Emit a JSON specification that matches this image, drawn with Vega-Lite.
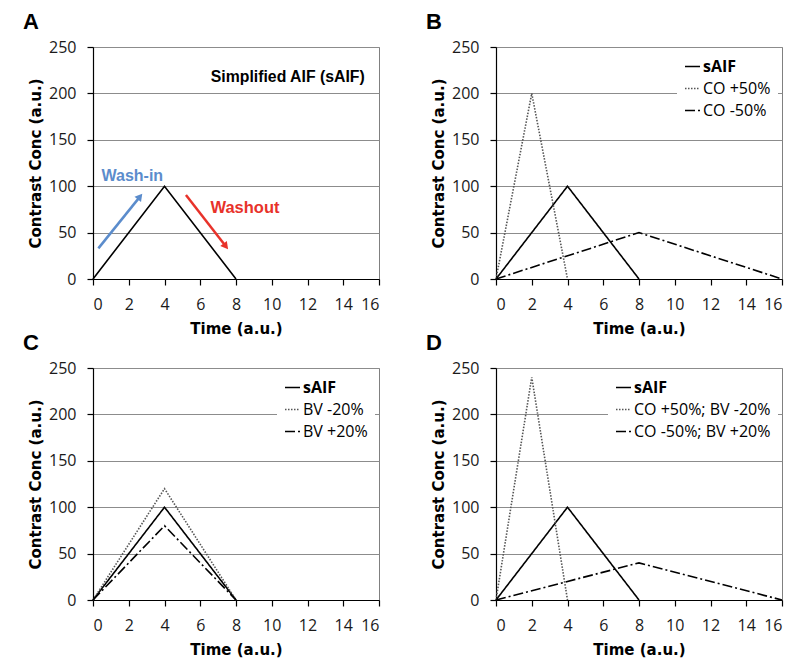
{
  "$schema": "https://vega.github.io/schema/vega-lite/v6.json",
  "background": "white",
  "padding": {"left": 22, "top": 10, "right": 5, "bottom": 5},
  "datasets": {
    "A": [
      {"t": 0, "c": 0, "s": "sAIF"}, {"t": 4, "c": 100, "s": "sAIF"}, {"t": 8, "c": 0, "s": "sAIF"}
    ],
    "B": [
      {"t": 0, "c": 0, "s": "sAIF"}, {"t": 4, "c": 100, "s": "sAIF"}, {"t": 8, "c": 0, "s": "sAIF"},
      {"t": 0, "c": 0, "s": "CO +50%"}, {"t": 2, "c": 200, "s": "CO +50%"}, {"t": 4, "c": 0, "s": "CO +50%"},
      {"t": 0, "c": 0, "s": "CO -50%"}, {"t": 8, "c": 50, "s": "CO -50%"}, {"t": 16, "c": 0, "s": "CO -50%"}
    ],
    "C": [
      {"t": 0, "c": 0, "s": "sAIF"}, {"t": 4, "c": 100, "s": "sAIF"}, {"t": 8, "c": 0, "s": "sAIF"},
      {"t": 0, "c": 0, "s": "BV -20%"}, {"t": 4, "c": 120, "s": "BV -20%"}, {"t": 8, "c": 0, "s": "BV -20%"},
      {"t": 0, "c": 0, "s": "BV +20%"}, {"t": 4, "c": 80, "s": "BV +20%"}, {"t": 8, "c": 0, "s": "BV +20%"}
    ],
    "D": [
      {"t": 0, "c": 0, "s": "sAIF"}, {"t": 4, "c": 100, "s": "sAIF"}, {"t": 8, "c": 0, "s": "sAIF"},
      {"t": 0, "c": 0, "s": "CO +50%; BV -20%"}, {"t": 2, "c": 240, "s": "CO +50%; BV -20%"}, {"t": 4, "c": 0, "s": "CO +50%; BV -20%"},
      {"t": 0, "c": 0, "s": "CO -50%; BV +20%"}, {"t": 8, "c": 40, "s": "CO -50%; BV +20%"}, {"t": 16, "c": 0, "s": "CO -50%; BV +20%"}
    ],
    "labels": [
      {"t": 15.2, "c": 218, "label": "Simplified AIF (sAIF)", "kind": "title"},
      {"t": 2.2, "c": 111, "label": "Wash-in", "kind": "in"},
      {"t": 8.5, "c": 77, "label": "Washout", "kind": "out"}
    ],
    "arrowIn": [{"t": 0.3, "c": 33, "t2": 2.63, "c2": 88.8}],
    "arrowOut": [{"t": 5.2, "c": 90.5, "t2": 7.43, "c2": 35.2}]
  },
  "config": {
    "font": "Open Sans",
    "view": {"stroke": "#808080", "strokeWidth": 1},
    "axis": {
      "domainColor": "black", "domainWidth": 1.2, "tickColor": "black", "tickSize": 6, "tickWidth": 1.2,
      "labelFont": "Open Sans", "labelFontSize": 16, "labelColor": "#1a1a1a",
      "titleFont": "DejaVu Sans", "titleFontSize": 15, "titleFontWeight": "bold", "titleColor": "black",
      "gridColor": "#8c8c8c", "gridWidth": 1
    },
    "axisX": {"grid": false, "values": [0, 2, 4, 6, 8, 10, 12, 14, 16], "labelPadding": 11, "titlePadding": 9},
    "axisY": {"grid": true, "values": [0, 50, 100, 150, 200, 250], "labelPadding": 11, "titlePadding": 5},
    "legend": {
      "orient": "top-right", "offset": 4, "padding": 7, "fillColor": "white",
      "labelFont": "Open Sans", "labelFontSize": 16, "labelColor": "black",
      "symbolType": "stroke", "symbolSize": 225, "symbolStrokeWidth": 1.5,
      "rowPadding": 5, "labelOffset": 2
    },
    "title": {"font": "Liberation Sans", "fontSize": 22, "fontWeight": "bold", "color": "black", "anchor": "start", "frame": "group", "dx": -70, "offset": 5, "baseline": "alphabetic"}
  },
  "spacing": -6,
  "resolve": {"scale": {"strokeDash": "independent", "color": "independent"}, "legend": {"strokeDash": "independent", "color": "independent"}},
  "vconcat": [
    {
      "spacing": 44,
      "resolve": {"scale": {"strokeDash": "independent", "color": "independent"}, "legend": {"strokeDash": "independent", "color": "independent"}},
      "hconcat": [
        {
          "title": {"text": "A"},
          "width": 286, "height": 232,
          "encoding": {
            "x": {"field": "t", "type": "quantitative", "scale": {"domain": [0, 16], "nice": false}, "axis": {"title": "Time (a.u.)"}},
            "y": {"field": "c", "type": "quantitative", "scale": {"domain": [0, 250], "nice": false}, "axis": {"title": "Contrast Conc (a.u.)"}}
          },
          "layer": [
            {"data": {"name": "A"}, "mark": {"type": "line", "color": "black", "strokeWidth": 1.6}},
            {"data": {"name": "arrowIn"}, "mark": {"type": "rule", "color": "#5b8ccc", "strokeWidth": 2.5},
              "encoding": {"x2": {"field": "t2"}, "y2": {"field": "c2"}}},
            {"data": {"name": "arrowIn"}, "mark": {"type": "point", "shape": "triangle-up", "filled": true, "color": "#5b8ccc", "size": 70, "angle": 38.7, "opacity": 1},
              "encoding": {"x": {"field": "t2", "type": "quantitative"}, "y": {"field": "c2", "type": "quantitative"}}},
            {"data": {"name": "arrowOut"}, "mark": {"type": "rule", "color": "#e8322a", "strokeWidth": 2.5},
              "encoding": {"x2": {"field": "t2"}, "y2": {"field": "c2"}}},
            {"data": {"name": "arrowOut"}, "mark": {"type": "point", "shape": "triangle-up", "filled": true, "color": "#e8322a", "size": 70, "angle": 141.9, "opacity": 1},
              "encoding": {"x": {"field": "t2", "type": "quantitative"}, "y": {"field": "c2", "type": "quantitative"}}},
            {"data": {"name": "labels"}, "transform": [{"filter": "datum.kind == 'title'"}],
              "mark": {"type": "text", "font": "Liberation Sans", "fontWeight": "bold", "fontSize": 15.8, "align": "right", "baseline": "middle", "color": "black"},
              "encoding": {"text": {"field": "label"}}},
            {"data": {"name": "labels"}, "transform": [{"filter": "datum.kind == 'in'"}],
              "mark": {"type": "text", "font": "Liberation Sans", "fontWeight": "bold", "fontSize": 16, "align": "center", "baseline": "middle", "color": "#5b8ccc"},
              "encoding": {"text": {"field": "label"}}},
            {"data": {"name": "labels"}, "transform": [{"filter": "datum.kind == 'out'"}],
              "mark": {"type": "text", "font": "Liberation Sans", "fontWeight": "bold", "fontSize": 16.5, "align": "center", "baseline": "middle", "color": "#e8322a"},
              "encoding": {"text": {"field": "label"}}}
          ]
        },
        {
          "title": {"text": "B"},
          "width": 286, "height": 232,
          "data": {"name": "B"},
          "mark": {"type": "line", "strokeWidth": 1.6},
          "encoding": {
            "x": {"field": "t", "type": "quantitative", "scale": {"domain": [0, 16], "nice": false}, "axis": {"title": "Time (a.u.)"}},
            "y": {"field": "c", "type": "quantitative", "scale": {"domain": [0, 250], "nice": false}, "axis": {"title": "Contrast Conc (a.u.)"}},
            "strokeDash": {"field": "s", "type": "nominal", "sort": null,
              "scale": {"domain": ["sAIF", "CO +50%", "CO -50%"], "range": [[1, 0], [1.5, 1.5], [10, 3, 2, 3]]},
              "legend": {"title": null, "labelFontWeight": {"expr": "datum.label == 'sAIF' ? 'bold' : 'normal'"}}},
            "color": {"field": "s", "type": "nominal", "sort": null,
              "scale": {"domain": ["sAIF", "CO +50%", "CO -50%"], "range": ["black", "#555555", "black"]},
              "legend": {"title": null, "labelFontWeight": {"expr": "datum.label == 'sAIF' ? 'bold' : 'normal'"}}}
          }
        }
      ]
    },
    {
      "spacing": 44,
      "resolve": {"scale": {"strokeDash": "independent", "color": "independent"}, "legend": {"strokeDash": "independent", "color": "independent"}},
      "hconcat": [
        {
          "title": {"text": "C"},
          "width": 286, "height": 232,
          "data": {"name": "C"},
          "mark": {"type": "line", "strokeWidth": 1.6},
          "encoding": {
            "x": {"field": "t", "type": "quantitative", "scale": {"domain": [0, 16], "nice": false}, "axis": {"title": "Time (a.u.)"}},
            "y": {"field": "c", "type": "quantitative", "scale": {"domain": [0, 250], "nice": false}, "axis": {"title": "Contrast Conc (a.u.)"}},
            "strokeDash": {"field": "s", "type": "nominal", "sort": null,
              "scale": {"domain": ["sAIF", "BV -20%", "BV +20%"], "range": [[1, 0], [1.5, 1.5], [10, 3, 2, 3]]},
              "legend": {"title": null, "labelFontWeight": {"expr": "datum.label == 'sAIF' ? 'bold' : 'normal'"}}},
            "color": {"field": "s", "type": "nominal", "sort": null,
              "scale": {"domain": ["sAIF", "BV -20%", "BV +20%"], "range": ["black", "#555555", "black"]},
              "legend": {"title": null, "labelFontWeight": {"expr": "datum.label == 'sAIF' ? 'bold' : 'normal'"}}}
          }
        },
        {
          "title": {"text": "D"},
          "width": 286, "height": 232,
          "data": {"name": "D"},
          "mark": {"type": "line", "strokeWidth": 1.6},
          "encoding": {
            "x": {"field": "t", "type": "quantitative", "scale": {"domain": [0, 16], "nice": false}, "axis": {"title": "Time (a.u.)"}},
            "y": {"field": "c", "type": "quantitative", "scale": {"domain": [0, 250], "nice": false}, "axis": {"title": "Contrast Conc (a.u.)"}},
            "strokeDash": {"field": "s", "type": "nominal", "sort": null,
              "scale": {"domain": ["sAIF", "CO +50%; BV -20%", "CO -50%; BV +20%"], "range": [[1, 0], [1.5, 1.5], [10, 3, 2, 3]]},
              "legend": {"title": null, "labelFontWeight": {"expr": "datum.label == 'sAIF' ? 'bold' : 'normal'"}}},
            "color": {"field": "s", "type": "nominal", "sort": null,
              "scale": {"domain": ["sAIF", "CO +50%; BV -20%", "CO -50%; BV +20%"], "range": ["black", "#555555", "black"]},
              "legend": {"title": null, "labelFontWeight": {"expr": "datum.label == 'sAIF' ? 'bold' : 'normal'"}}}
          }
        }
      ]
    }
  ]
}
